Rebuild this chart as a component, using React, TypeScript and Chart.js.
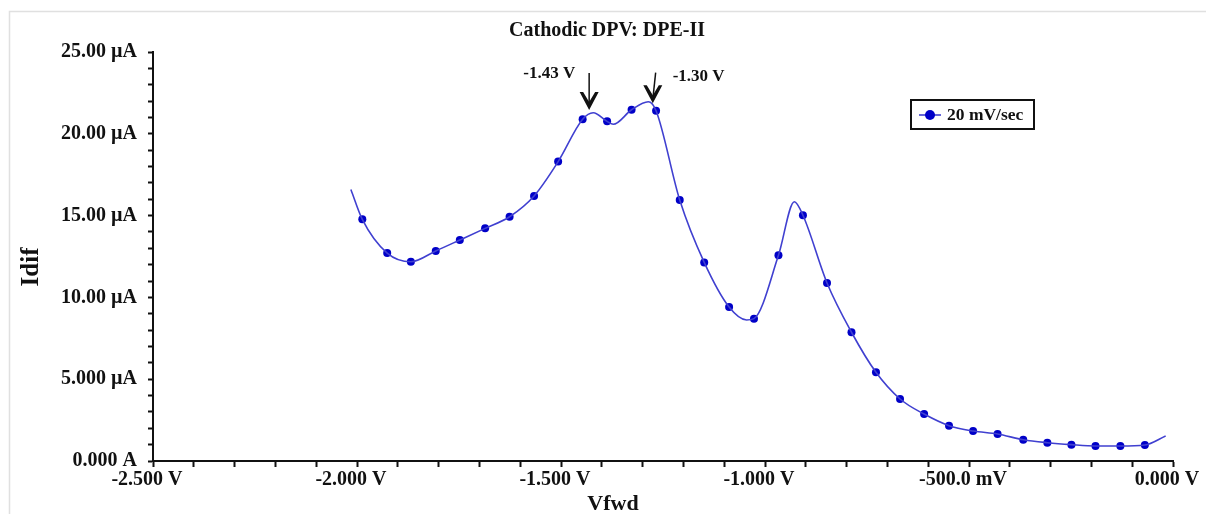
import React, { useEffect, useRef } from "react";
import { Chart, registerables } from "chart.js";

Chart.register(...registerables);

const FONT = "'Liberation Serif', 'Times New Roman', serif";

const TITLE = "Cathodic DPV: DPE-II";
const X_TITLE = "Vfwd";
const Y_TITLE = "Idif";
const SERIES_LABEL = "20 mV/sec";

// Marker (sampled) points: potential (V) and differential current (µA)
const markerV = [
  -1.987, -1.926, -1.868, -1.807, -1.748, -1.686, -1.626, -1.566, -1.507, -1.447,
  -1.387, -1.327, -1.267, -1.209, -1.149, -1.088, -1.027, -0.967, -0.907, -0.848,
  -0.788, -0.728, -0.669, -0.61, -0.549, -0.49, -0.43, -0.367, -0.308, -0.249,
  -0.19, -0.129, -0.069,
];
const markerI = [
  14.77, 12.71, 12.18, 12.84, 13.51, 14.22, 14.93, 16.2, 18.3, 20.89,
  20.76, 21.47, 21.41, 15.95, 12.14, 9.41, 8.7, 12.57, 15.02, 10.88,
  7.87, 5.42, 3.79, 2.87, 2.16, 1.83, 1.65, 1.3, 1.12, 1.0,
  0.92, 0.92, 0.98,
];

// Points of the trace that carry no marker (ends, peaks and valleys)
const curveOnlyV = [-2.015, -1.421, -1.372, -1.286, -1.045, -0.928, -0.018];
const curveOnlyI = [16.6, 21.29, 20.58, 21.96, 8.62, 15.85, 1.53];

const xTickValues = [-2.5, -2.0, -1.5, -1.0, -0.5, 0];
const xTickLabels = ["-2.500 V", "-2.000 V", "-1.500 V", "-1.000 V", "-500.0 mV", "0.000 V"];
const yTickValues = [0, 5, 10, 15, 20, 25];
const yTickLabels = ["0.000 A", "5.000 µA", "10.00 µA", "15.00 µA", "20.00 µA", "25.00 µA"];

const annotationLabels = ["-1.43 V", "-1.30 V"];
const annotationTipV = [-1.431, -1.275];
const annotationTipI = [21.45, 21.87];
const annotationTailV = [-1.431, -1.268];
const annotationTailI = [23.72, 23.74];

const LINE_COLOR = "rgb(64,64,208)";
const MARKER_COLOR = "#0000c8";

function labelFor(values: number[], labels: string[], v: number): string {
  for (let i = 0; i < values.length; i++) {
    if (Math.abs(values[i] - v) < 1e-6) return labels[i];
  }
  return "";
}

const overlayPlugin = {
  id: "overlay",
  afterDraw(chart: any) {
    const ctx = chart.ctx as CanvasRenderingContext2D;
    const xs = chart.scales.x;
    const ys = chart.scales.y;
    ctx.save();

    // frame
    ctx.strokeStyle = "#e0e0e0";
    ctx.lineWidth = 1.5;
    ctx.beginPath();
    ctx.moveTo(9.5, 514);
    ctx.lineTo(9.5, 11.5);
    ctx.lineTo(1206, 11.5);
    ctx.stroke();

    ctx.fillStyle = "#111";
    // title
    ctx.font = `bold 20px ${FONT}`;
    ctx.textAlign = "center";
    ctx.textBaseline = "alphabetic";
    ctx.fillText(TITLE, 607, 36);

    // x title
    ctx.font = `bold 22px ${FONT}`;
    ctx.fillText(X_TITLE, 613, 510);

    // y title
    ctx.save();
    ctx.translate(38, 267);
    ctx.rotate(-Math.PI / 2);
    ctx.font = `bold 25px ${FONT}`;
    ctx.fillText(Y_TITLE, 0, 0);
    ctx.restore();

    // legend
    ctx.strokeStyle = "#111";
    ctx.lineWidth = 2;
    ctx.strokeRect(911, 100, 123, 29);
    ctx.strokeStyle = LINE_COLOR;
    ctx.lineWidth = 1.6;
    ctx.beginPath();
    ctx.moveTo(919, 115);
    ctx.lineTo(941, 115);
    ctx.stroke();
    ctx.fillStyle = MARKER_COLOR;
    ctx.beginPath();
    ctx.arc(930, 115, 5, 0, Math.PI * 2);
    ctx.fill();
    ctx.fillStyle = "#111";
    ctx.font = `bold 17.5px ${FONT}`;
    ctx.textAlign = "left";
    ctx.fillText(SERIES_LABEL, 947, 120);

    // annotations
    ctx.font = `bold 17px ${FONT}`;
    for (let i = 0; i < annotationLabels.length; i++) {
      const tipX = xs.getPixelForValue(annotationTipV[i]);
      const tipY = ys.getPixelForValue(annotationTipI[i]);
      const tailX = xs.getPixelForValue(annotationTailV[i]);
      const tailY = ys.getPixelForValue(annotationTailI[i]);
      ctx.strokeStyle = "#111";
      ctx.lineWidth = 1.5;
      ctx.beginPath();
      ctx.moveTo(tailX, tailY);
      ctx.lineTo(tipX, tipY - 4);
      ctx.stroke();
      ctx.fillStyle = "#111";
      ctx.beginPath();
      ctx.moveTo(tipX, tipY);
      ctx.lineTo(tipX - 9.5, tipY - 18);
      ctx.lineTo(tipX - 6, tipY - 18);
      ctx.lineTo(tipX, tipY - 8);
      ctx.lineTo(tipX + 6, tipY - 18);
      ctx.lineTo(tipX + 9.5, tipY - 18);
      ctx.closePath();
      ctx.fill();
      if (i === 0) {
        ctx.textAlign = "right";
        ctx.fillText(annotationLabels[i], tailX - 14, tailY + 5);
      } else {
        ctx.textAlign = "left";
        ctx.fillText(annotationLabels[i], tailX + 17, tailY + 8);
      }
    }
    ctx.restore();
  },
};

export default function App() {
  const canvasRef = useRef<HTMLCanvasElement | null>(null);

  useEffect(() => {
    if (!canvasRef.current) return;

    const curvePts = markerV
      .map((v, i) => ({ x: v, y: markerI[i] }))
      .concat(curveOnlyV.map((v, i) => ({ x: v, y: curveOnlyI[i] })))
      .sort((a, b) => a.x - b.x);
    const markerPts = markerV.map((v, i) => ({ x: v, y: markerI[i] }));

    const tickFont = { family: FONT, size: 20, weight: "bold" as const };

    const chart = new Chart(canvasRef.current, {
      type: "line",
      data: {
        datasets: [
          {
            label: SERIES_LABEL,
            data: curvePts,
            borderColor: LINE_COLOR,
            borderWidth: 1.6,
            pointRadius: 0,
            cubicInterpolationMode: "monotone",
            fill: false,
          },
          {
            label: SERIES_LABEL + " markers",
            data: markerPts,
            showLine: false,
            pointRadius: 4,
            pointBackgroundColor: MARKER_COLOR,
            pointBorderWidth: 0,
            borderColor: MARKER_COLOR,
          },
        ],
      },
      options: {
        responsive: false,
        animation: false,
        layout: { padding: { left: 0, top: 52, right: 33, bottom: 0 } },
        plugins: {
          legend: { display: false },
          tooltip: { enabled: false },
          title: { display: false },
        },
        scales: {
          x: {
            type: "linear",
            min: -2.5,
            max: 0,
            afterFit(scale: any) {
              scale.height = 53;
              scale.paddingLeft = 0;
              scale.paddingRight = 0;
            },
            ticks: {
              stepSize: 0.1,
              autoSkip: false,
              maxRotation: 0,
              minRotation: 0,
              padding: 1,
              labelOffset: -6,
              color: "#111",
              font: tickFont,
              callback: (v: any) => labelFor(xTickValues, xTickLabels, Number(v)),
            },
            grid: {
              display: true,
              drawOnChartArea: false,
              drawTicks: true,
              tickLength: 6,
              tickWidth: 2,
              tickColor: "#111",
            },
            border: { display: true, color: "#111", width: 2 },
          },
          y: {
            type: "linear",
            min: 0,
            max: 25,
            afterFit(scale: any) {
              scale.width = 153;
              scale.paddingTop = 0;
              scale.paddingBottom = 0;
            },
            ticks: {
              stepSize: 1,
              autoSkip: false,
              padding: 11,
              color: "#111",
              font: tickFont,
              callback: (v: any) => labelFor(yTickValues, yTickLabels, Number(v)),
            },
            grid: {
              display: true,
              drawOnChartArea: false,
              drawTicks: true,
              tickLength: 5,
              tickWidth: 2,
              tickColor: "#111",
            },
            border: { display: true, color: "#111", width: 2 },
          },
        },
      },
      plugins: [overlayPlugin],
    });

    return () => chart.destroy();
  }, []);

  return (
    <div style={{ position: "fixed", left: 0, top: 0, width: 1206, height: 514, background: "#fff" }}>
      <canvas ref={canvasRef} width={1206} height={514} style={{ display: "block" }} />
    </div>
  );
}
